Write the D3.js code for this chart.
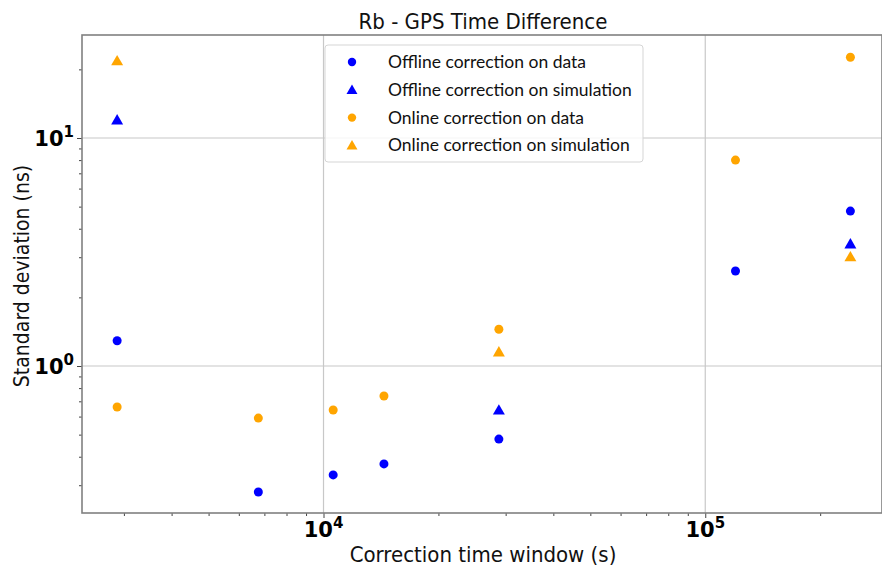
<!DOCTYPE html>
<html>
<head>
<meta charset="utf-8">
<script src="https://cdn.jsdelivr.net/npm/d3@7"></script>
<style>
  body { margin: 0; background: #fff; }
  svg { display: block; }
  .title, .axis-label { font-family: "DejaVu Sans Condensed", "DejaVu Sans", sans-serif; fill: #111; }
  .tick-lbl { font-family: "DejaVu Sans", sans-serif; font-weight: bold; fill: #000; }
  .legend-text { font-family: "Lato", "DejaVu Sans", sans-serif; fill: #111; }
</style>
</head>
<body>
<div id="chart"></div>
<script>
// correction time windows (s)
const windows = [2880, 6750, 10600, 14400, 28800, 120000, 240000];
const simWindows = [2880, 28800, 240000];

// standard deviations (ns)
const offlineData = [1.29, 0.28, 0.333, 0.372, 0.478, 2.61, 4.78];
const onlineData = [0.661, 0.591, 0.641, 0.739, 1.45, 8.0, 22.6];
const offlineSim = [12.0, 0.641, 3.43];
const onlineSim = [21.8, 1.152, 3.01];

const xMajor = [1e4, 1e5];
const yMajor = [1, 10];
const xMinor = [3000, 4000, 5000, 6000, 7000, 8000, 9000,
  20000, 30000, 40000, 50000, 60000, 70000, 80000, 90000, 200000];
const yMinor = [0.3, 0.4, 0.5, 0.6, 0.7, 0.8, 0.9, 2, 3, 4, 5, 6, 7, 8, 9, 20];

const series = [
  { name: 'Offline correction on data', x: windows, y: offlineData, color: 'blue', shape: 'circle' },
  { name: 'Offline correction on simulation', x: simWindows, y: offlineSim, color: 'blue', shape: 'triangle' },
  { name: 'Online correction on data', x: windows, y: onlineData, color: 'orange', shape: 'circle' },
  { name: 'Online correction on simulation', x: simWindows, y: onlineSim, color: 'orange', shape: 'triangle' }
];

const config = {
  containerWidth: 882,
  containerHeight: 570,
  margin: { top: 35, right: 0, bottom: 57, left: 82 }
};
const width = config.containerWidth - config.margin.left - config.margin.right;
const height = config.containerHeight - config.margin.top - config.margin.bottom;

const svg = d3.select('#chart').append('svg')
  .attr('width', config.containerWidth)
  .attr('height', config.containerHeight);

const chart = svg.append('g')
  .attr('transform', `translate(${config.margin.left},${config.margin.top})`);

// Scales (log-log)
const xScale = d3.scaleLog().domain([2330, 290400]).range([0, width]);
const yScale = d3.scaleLog().domain([0.2266, 28.3]).range([height, 0]);

// Grid lines on major ticks
chart.append('g').selectAll('line').data(xMajor).join('line')
  .attr('x1', d => xScale(d)).attr('x2', d => xScale(d))
  .attr('y1', 0).attr('y2', height)
  .attr('stroke', '#c8c8c8').attr('stroke-width', 1.2);
chart.append('g').selectAll('line').data(yMajor).join('line')
  .attr('y1', d => yScale(d)).attr('y2', d => yScale(d))
  .attr('x1', 0).attr('x2', width)
  .attr('stroke', '#c8c8c8').attr('stroke-width', 1.2);

// Axes: ticks only, labels drawn separately
const xAxisMajor = d3.axisBottom(xScale).tickValues(xMajor).tickSize(5).tickFormat('');
const xAxisMinor = d3.axisBottom(xScale).tickValues(xMinor).tickSize(3).tickFormat('');
const yAxisMajor = d3.axisLeft(yScale).tickValues(yMajor).tickSize(5).tickFormat('');
const yAxisMinor = d3.axisLeft(yScale).tickValues(yMinor).tickSize(3).tickFormat('');

[xAxisMajor, xAxisMinor].forEach(ax => {
  chart.append('g').attr('transform', `translate(0,${height})`).call(ax)
    .call(g => g.select('.domain').remove())
    .call(g => g.selectAll('.tick line').attr('stroke', '#444').attr('stroke-width', 1));
});
[yAxisMajor, yAxisMinor].forEach(ax => {
  chart.append('g').call(ax)
    .call(g => g.select('.domain').remove())
    .call(g => g.selectAll('.tick line').attr('stroke', '#444').attr('stroke-width', 1));
});

// Tick labels as 10^n
const expOf = d => Math.round(Math.log10(d));
const xl = chart.append('g').selectAll('text').data(xMajor).join('text')
  .attr('class', 'tick-lbl')
  .attr('x', d => xScale(d))
  .attr('y', height + 24)
  .attr('text-anchor', 'middle')
  .style('font-size', '21px');
xl.append('tspan').text('10');
xl.append('tspan').attr('dy', -9).style('font-size', '15px').text(d => expOf(d));

const yl = chart.append('g').selectAll('text').data(yMajor).join('text')
  .attr('class', 'tick-lbl')
  .attr('x', -8)
  .attr('y', d => yScale(d) + 8)
  .attr('text-anchor', 'end')
  .style('font-size', '21px');
yl.append('tspan').text('10');
yl.append('tspan').attr('dy', -9).style('font-size', '15px').text(d => expOf(d));

// Spines
chart.append('rect')
  .attr('x', 0).attr('y', 0).attr('width', width).attr('height', height)
  .attr('fill', 'none').attr('stroke', '#808080').attr('stroke-width', 1.6);

// Markers
const triangle = d3.symbol().type(d3.symbolTriangle).size(62);
series.forEach(s => {
  const pts = s.x.map((x, i) => ({ x: x, y: s.y[i] }));
  if (s.shape === 'circle') {
    chart.append('g').selectAll('circle').data(pts).join('circle')
      .attr('cx', d => xScale(d.x)).attr('cy', d => yScale(d.y))
      .attr('r', 4.5).attr('fill', s.color);
  } else {
    chart.append('g').selectAll('path').data(pts).join('path')
      .attr('d', triangle)
      .attr('transform', d => `translate(${xScale(d.x)},${yScale(d.y) + 1})`)
      .attr('fill', s.color);
  }
});

// Legend
const legend = svg.append('g').attr('transform', 'translate(325,45)');
legend.append('rect')
  .attr('width', 318).attr('height', 117).attr('rx', 3)
  .attr('fill', 'rgba(255,255,255,0.8)').attr('stroke', '#d5d5d5');
series.forEach((s, i) => {
  const row = legend.append('g').attr('transform', `translate(27,${17 + i * 27.8})`);
  if (s.shape === 'circle') {
    row.append('circle').attr('r', 4.2).attr('fill', s.color);
  } else {
    row.append('path').attr('d', d3.symbol().type(d3.symbolTriangle).size(52)).attr('transform', 'translate(0,1)').attr('fill', s.color);
  }
  row.append('text').attr('class', 'legend-text')
    .attr('x', 36).attr('y', 6)
    .style('font-size', '17.5px')
    .text(s.name);
});

// Title and axis labels
svg.append('text').attr('class', 'title')
  .attr('x', 483).attr('y', 29)
  .attr('text-anchor', 'middle')
  .style('font-size', '22px')
  .text('Rb - GPS Time Difference');

svg.append('text').attr('class', 'axis-label')
  .attr('x', 483).attr('y', 562)
  .attr('text-anchor', 'middle')
  .style('font-size', '22px')
  .text('Correction time window (s)');

svg.append('text').attr('class', 'axis-label')
  .attr('transform', `translate(29,${276}) rotate(-90)`)
  .attr('text-anchor', 'middle')
  .style('font-size', '21px')
  .text('Standard deviation (ns)');
</script>
</body>
</html>
